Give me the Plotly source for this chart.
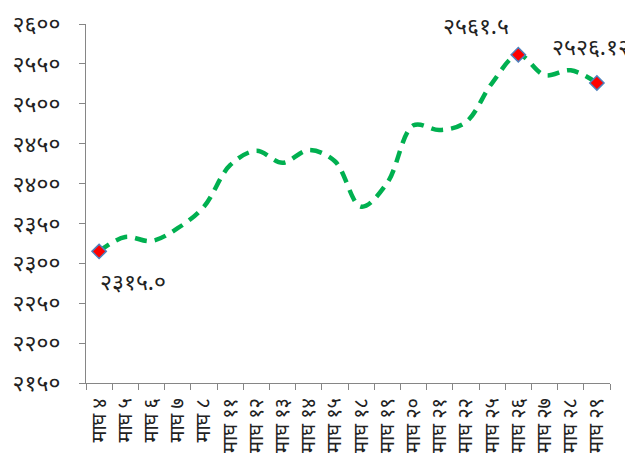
import plotly.graph_objects as go

categories = ["माघ ४", "माघ ५", "माघ ६", "माघ ७", "माघ ८", "माघ ११", "माघ १२", "माघ १३",
              "माघ १४", "माघ १५", "माघ १८", "माघ १९", "माघ २०", "माघ २१", "माघ २२",
              "माघ २५", "माघ २६", "माघ २७", "माघ २८", "माघ २९"]
values = [2315.0, 2333, 2328, 2344, 2371, 2423, 2441, 2426, 2442, 2428,
          2371, 2401, 2473, 2467, 2477, 2526, 2561.5, 2536, 2542, 2526.12]
marked = [0, 16, 19]
marked_labels = ["२३१५.०", "२५६१.५", "२५२६.१२"]
y_ticks = [2150, 2200, 2250, 2300, 2350, 2400, 2450, 2500, 2550, 2600]
y_tick_text = ["२१५०", "२२००", "२२५०", "२३००", "२३५०", "२४००", "२४५०", "२५००", "२५५०", "२६००"]

font_family = "Noto Sans, Noto Sans Devanagari, sans-serif"

fig = go.Figure()
fig.add_trace(go.Scatter(
    x=categories, y=values, mode="lines",
    line=dict(color="#00B050", width=4.5, dash="12px,8px", shape="spline", smoothing=1),
    hoverinfo="skip", showlegend=False))
fig.add_trace(go.Scatter(
    x=[categories[i] for i in marked], y=[values[i] for i in marked], mode="markers",
    marker=dict(symbol="diamond", size=11, color="#FF0000",
                line=dict(color="#4F81BD", width=1.5)),
    showlegend=False))

offsets = [(34, -30), (-42, 30), (-6, 37)]
for (i, t), (dx, dy) in zip(zip(marked, marked_labels), offsets):
    fig.add_annotation(x=categories[i], y=values[i], text=t, showarrow=False,
                       xshift=dx, yshift=dy, font=dict(size=23, color="#222222", family=font_family))

fig.update_layout(
    width=633, height=467,
    margin=dict(l=78, r=31, t=16, b=92),
    plot_bgcolor="white", paper_bgcolor="white",
    font=dict(family=font_family, size=16, color="#222222"),
)
fig.update_xaxes(
    type="category", range=[-0.5, 19.5], showgrid=False, automargin=False,
    showline=True, linecolor="#868686", linewidth=1,
    ticks="outside", ticklen=6, tickcolor="#868686", tickson="boundaries",
    tickangle=-90, tickfont=dict(size=20), ticklabelstandoff=6,
    ticklabeloverflow="allow")
fig.update_yaxes(
    range=[2150, 2600], tickvals=y_ticks, ticktext=y_tick_text, showgrid=False,
    automargin=False,
    showline=True, linecolor="#868686", linewidth=1,
    ticks="outside", ticklen=6, tickcolor="#868686", ticklabelstandoff=14,
    tickfont=dict(size=23), zeroline=False, ticklabeloverflow="allow")

fig.write_html("out.html")
